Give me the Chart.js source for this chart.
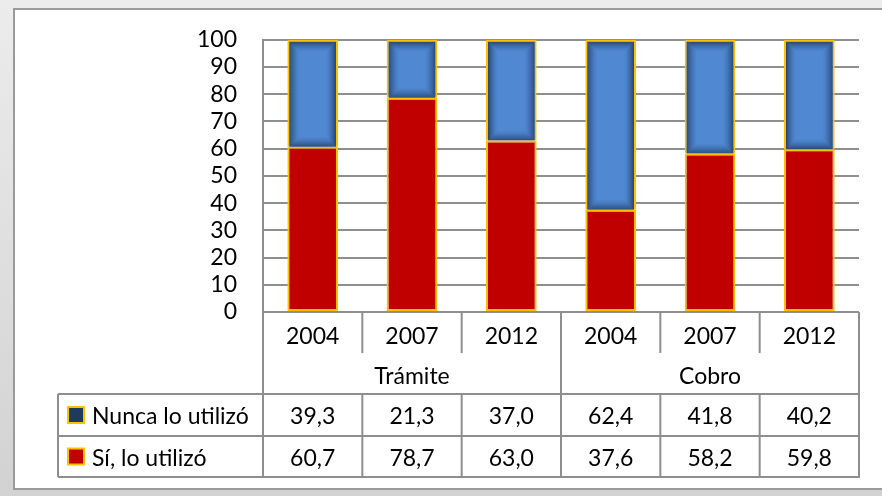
<!DOCTYPE html>
<html>
<head>
<meta charset="utf-8">
<script src="https://cdn.jsdelivr.net/npm/chart.js@4.4.1/dist/chart.umd.min.js"></script>
<style>
  body { margin: 0; background: #e2e2e2; }
  #wrap { position: relative; width: 882px; height: 496px; }
</style>
</head>
<body>
<div id="wrap"><canvas id="myChart"></canvas></div>
<script>
var years = ['2004', '2007', '2012', '2004', '2007', '2012'];
var groups = ['Trámite', 'Cobro'];
var nuncaData = [39.3, 21.3, 37.0, 62.4, 41.8, 40.2];
var siData = [60.7, 78.7, 63.0, 37.6, 58.2, 59.8];
var yTicks = [0, 10, 20, 30, 40, 50, 60, 70, 80, 90, 100];

var FONT = '23px Lato';
var LINE = '#8e8e8e';
var GOLD = '#FFC000';

function fmt(v) {
    return v.toFixed(1).replace('.', ',');
}

// gray frame + white panel behind everything
var framePlugin = {
    id: 'frame',
    beforeDraw: function(chart) {
        var ctx = chart.ctx;
        ctx.save();
        var g = ctx.createLinearGradient(0, 0, 0, chart.height);
        g.addColorStop(0, '#ececec');
        g.addColorStop(1, '#d2d2d2');
        ctx.fillStyle = g;
        ctx.fillRect(0, 0, chart.width, chart.height);
        ctx.fillStyle = '#ffffff';
        ctx.fillRect(14, 9, chart.width, 480);
        ctx.strokeStyle = '#9a9a9a';
        ctx.lineWidth = 2;
        ctx.beginPath();
        ctx.moveTo(chart.width, 9);
        ctx.lineTo(14, 9);
        ctx.lineTo(14, 489);
        ctx.lineTo(chart.width, 489);
        ctx.stroke();
        ctx.restore();
    }
};

// dark inner edge on the blue bars
var shadePlugin = {
    id: 'shade',
    afterDatasetDraw: function(chart, args) {
        if (args.index !== 1) return;
        var ctx = chart.ctx;
        var meta = chart.getDatasetMeta(1);
        ctx.save();
        meta.data.forEach(function(bar) {
            var p = bar.getProps(['x', 'y', 'base', 'width'], true);
            var left = p.x - p.width / 2 + 2;
            var top = Math.min(p.y, p.base) + 2;
            var w = p.width - 4;
            var h = Math.abs(p.base - p.y) - 2;
            for (var i = 0; i < 10; i++) {
                ctx.strokeStyle = 'rgba(25, 45, 80,' + (0.7 * Math.pow(1 - i / 10, 1.6)) + ')';
                ctx.lineWidth = 1;
                ctx.strokeRect(left + i + 0.5, top + i + 0.5, w - 2 * i - 1, h - 2 * i - 1);
            }
        });
        ctx.restore();
    }
};

// data table under the plot
var tablePlugin = {
    id: 'table',
    afterDraw: function(chart) {
        var ctx = chart.ctx;
        var x = chart.scales.x;
        var a = chart.chartArea;
        var n = years.length;
        var colW = (a.right - a.left) / n;
        var y0 = a.bottom;
        var yYear = y0 + 41;
        var yGroup = y0 + 82;
        var yRow1 = y0 + 124;
        var yEnd = y0 + 165;
        var legL = 58;

        ctx.save();
        ctx.strokeStyle = LINE;
        ctx.lineWidth = 2;
        ctx.beginPath();
        // horizontal lines
        [yGroup, yRow1, yEnd].forEach(function(yy) {
            ctx.moveTo(legL, yy);
            ctx.lineTo(a.right + 1, yy);
        });
        // legend column left border
        ctx.moveTo(legL, yGroup);
        ctx.lineTo(legL, yEnd);
        // axis line continues down
        ctx.moveTo(a.left, y0);
        ctx.lineTo(a.left, yEnd);
        // right border
        ctx.moveTo(a.right, y0);
        ctx.lineTo(a.right, yEnd);
        for (var i = 1; i < n; i++) {
            var bx = a.left + i * colW;
            if (i === 3) {
                ctx.moveTo(bx, y0);
                ctx.lineTo(bx, yEnd);
            } else {
                ctx.moveTo(bx, y0);
                ctx.lineTo(bx, yYear);
                ctx.moveTo(bx, yGroup);
                ctx.lineTo(bx, yEnd);
            }
        }
        ctx.stroke();

        ctx.fillStyle = '#000';
        ctx.font = FONT;
        ctx.textAlign = 'center';
        ctx.textBaseline = 'middle';
        for (var j = 0; j < n; j++) {
            var cx = x.getPixelForTick(j);
            ctx.fillText(years[j], cx, (y0 + yYear) / 2 + 4);
            ctx.fillText(fmt(nuncaData[j]), cx, (yGroup + yRow1) / 2 + 2);
            ctx.fillText(fmt(siData[j]), cx, (yRow1 + yEnd) / 2 + 2);
        }
        ctx.fillText(groups[0], a.left + colW * 1.5, (yYear + yGroup) / 2 + 3);
        ctx.fillText(groups[1], a.left + colW * 4.5, (yYear + yGroup) / 2 + 3);

        // legend keys
        var ds = chart.data.datasets;
        var rows = [[ds[1], (yGroup + yRow1) / 2], [ds[0], (yRow1 + yEnd) / 2]];
        rows.forEach(function(r) {
            var cy = r[1];
            ctx.fillStyle = r[0].keyColor;
            ctx.fillRect(68, cy - 8, 16, 16);
            ctx.strokeStyle = GOLD;
            ctx.lineWidth = 2;
            ctx.strokeRect(68, cy - 8, 16, 16);
            ctx.fillStyle = '#000';
            ctx.textAlign = 'left';
            ctx.fillText(r[0].label, 92, cy + 2);
        });
        ctx.restore();
    }
};

var ctx = document.getElementById('myChart');

var myChart = new Chart(ctx, {
    type: 'bar',
    data: {
        labels: years,
        datasets: [
            {
                label: 'Sí, lo utilizó',
                data: siData,
                backgroundColor: '#C00000',
                borderColor: GOLD,
                borderWidth: 2,
                borderSkipped: false,
                keyColor: '#C00000'
            },
            {
                label: 'Nunca lo utilizó',
                data: nuncaData,
                backgroundColor: '#5089D2',
                borderColor: GOLD,
                borderWidth: 2,
                borderSkipped: 'bottom',
                keyColor: '#1F3A60'
            }
        ]
    },
    options: {
        responsive: true,
        maintainAspectRatio: false,
        animation: false,
        layout: {
            padding: { left: 0, right: 23, top: 37, bottom: 0 }
        },
        datasets: {
            bar: { categoryPercentage: 1, barPercentage: 0.51 }
        },
        scales: {
            x: {
                stacked: true,
                ticks: { display: false },
                grid: { display: false },
                border: { display: false },
                afterFit: function(scale) { scale.height = 184; }
            },
            y: {
                stacked: true,
                min: 0,
                max: 100,
                afterBuildTicks: function(scale) {
                    scale.ticks = yTicks.map(function(v) { return { value: v }; });
                },
                afterFit: function(scale) { scale.width = 263; },
                ticks: {
                    color: '#000',
                    padding: 26,
                    autoSkip: false,
                    stepSize: 10,
                    font: { family: 'Lato', size: 23 }
                },
                grid: {
                    color: LINE,
                    lineWidth: 2,
                    drawTicks: false
                },
                border: { color: LINE, width: 2 }
            }
        },
        plugins: {
            legend: { display: false },
            tooltip: { enabled: false }
        }
    },
    plugins: [framePlugin, shadePlugin, tablePlugin]
});
</script>
</body>
</html>
